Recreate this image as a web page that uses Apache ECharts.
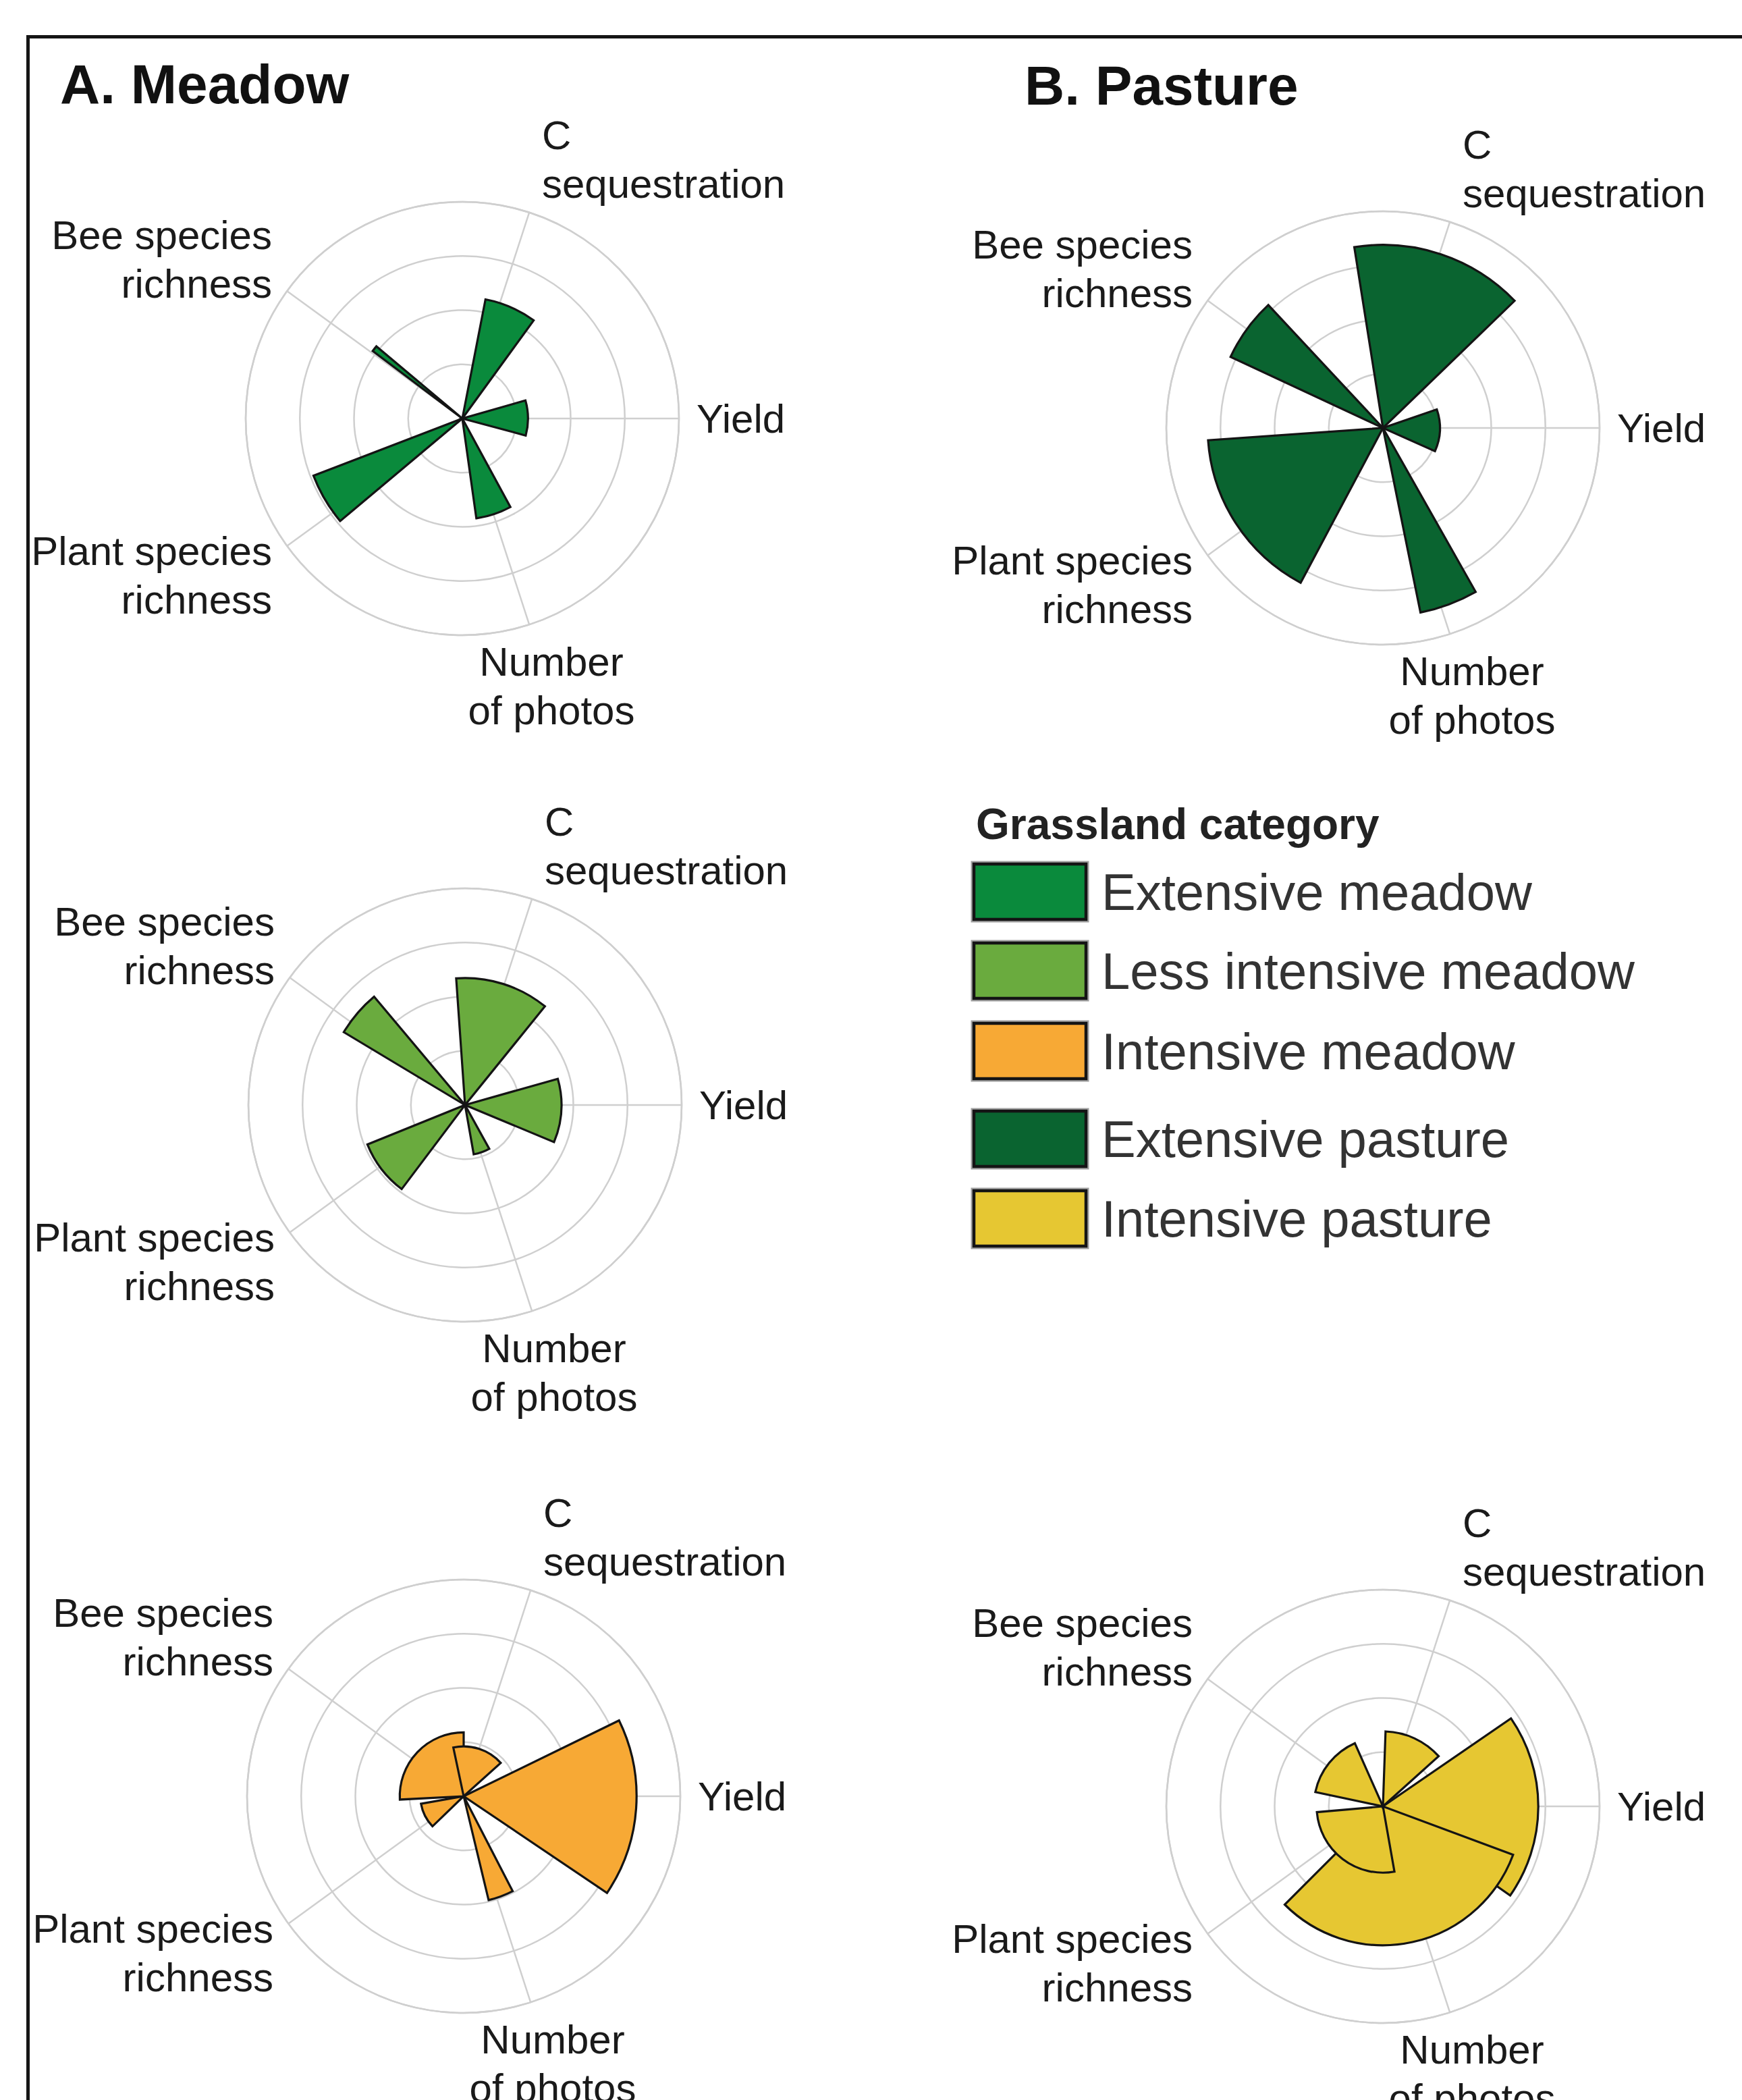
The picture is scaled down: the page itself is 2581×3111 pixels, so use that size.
<!DOCTYPE html>
<html>
<head>
<meta charset="utf-8">
<script src="https://cdn.jsdelivr.net/npm/echarts@6/dist/echarts.min.js"></script>
<style>
html,body{margin:0;padding:0;background:#fff;}
#chart{width:2581px;height:3111px;}
</style>
</head>
<body>
<div id="chart"></div>
<script>
// ---------------- DATA ----------------
// axis order: Yield, C sequestration, Bee species richness, Plant species richness, Number of photos
const axisNames = ['Yield', 'C sequestration', 'Bee species richness', 'Plant species richness', 'Number of photos'];
const axisLabelText = ['Yield', 'C\nsequestration', 'Bee species\nrichness', 'Plant species\nrichness', 'Number\nof photos'];
const spokeInterval = 72; // degrees between spokes
const ringInterval = 0.25;

const categories = ['Extensive meadow', 'Less intensive meadow', 'Intensive meadow', 'Extensive pasture', 'Intensive pasture'];
const categoryColors = ['#0A8A3C', '#6AAB3E', '#F7A935', '#0A6430', '#E6C732'];
const panelTitles = ['A. Meadow', 'B. Pasture'];
const legendTitle = 'Grassland category';

// relative value (outer ring = 1) and angular extent (degrees, counter-clockwise from Yield)
const extMeadowValue = [0.303, 0.56, 0.518, 0.736, 0.465];
const extMeadowStart = [345, 54, 140, 201, 278];
const extMeadowEnd   = [16, 79, 143, 220, 298.5];

const lessMeadowValue = [0.445, 0.586, 0.653, 0.486, 0.231];
const lessMeadowStart = [337.4, 51, 130, 202, 280];
const lessMeadowEnd   = [15.8, 94, 149, 233, 299];

const intMeadowValue = [0.798, 0.23, 0.295, 0.20, 0.493];
const intMeadowStart = [326, 42, 90, 190, 283.5];
const intMeadowEnd   = [26, 102, 183, 224, 297.3];

const extPastureValue = [0.263, 0.845, 0.776, 0.809, 0.869];
const extPastureStart = [336, 44, 133, 184, 281.5];
const extPastureEnd   = [19, 99, 155, 242, 299.5];

const intPastureValue = [0.717, 0.346, 0.319, 0.306, 0.641];
const intPastureStart = [325, 42, 114, 185, 225];
const intPastureEnd   = [34.5, 88, 168, 280, 339.6];

const seriesValues = [extMeadowValue, lessMeadowValue, intMeadowValue, extPastureValue, intPastureValue];
const seriesStarts = [extMeadowStart, lessMeadowStart, intMeadowStart, extPastureStart, intPastureStart];
const seriesEnds   = [extMeadowEnd, lessMeadowEnd, intMeadowEnd, extPastureEnd, intPastureEnd];

// drawing order of petals (later ones on top)
const drawOrder = [0, 4, 3, 2, 1];

// ---------------- LAYOUT ----------------
const panelCenters = [[685, 620], [689, 1637], [687, 2661], [2049, 634], [2049, 2676]];
const polarRadius = 321;
const labelFont = '"Liberation Sans", Arial, Helvetica, sans-serif';
// label anchor offsets relative to polar centre, per axis
const labelLayout = [
  {dx: 347, dy: 0, align: 'left'},
  {dx: 118, dy: -384, align: 'left'},
  {dx: -282, dy: -236, align: 'right'},
  {dx: -282, dy: 232, align: 'right'},
  {dx: 132, dy: 396, align: 'center'}
];

const gridLine = {color: '#cfcfcf', width: 2.5};

const polar = [], angleAxis = [], radiusAxis = [], series = [];
panelCenters.forEach((c, i) => {
  polar.push({center: [c[0], c[1]], radius: polarRadius});
  angleAxis.push({
    polarIndex: i, type: 'value', min: 0, max: 360, interval: spokeInterval,
    startAngle: 0, clockwise: false,
    axisLine: {show: true, lineStyle: gridLine},
    axisTick: {show: false}, axisLabel: {show: false},
    splitLine: {show: true, lineStyle: gridLine}
  });
  radiusAxis.push({
    polarIndex: i, type: 'value', min: 0, max: 1, interval: ringInterval,
    axisLine: {show: false}, axisTick: {show: false}, axisLabel: {show: false},
    splitLine: {show: true, lineStyle: gridLine}
  });
  const data = drawOrder.map(k => ({
    name: axisNames[k],
    value: [seriesValues[i][k], seriesStarts[i][k], seriesEnds[i][k]]
  }));
  const color = categoryColors[i];
  series.push({
    type: 'custom', name: categories[i], coordinateSystem: 'polar', polarIndex: i,
    encode: {radius: 0, angle: 1},
    data: data,
    silent: true,
    renderItem: function (params, api) {
      const r = api.value(0), a1 = api.value(1), a2 = api.value(2);
      const c0 = api.coord([0, 0]);
      const p1 = api.coord([r, a1]);
      const p2 = api.coord([r, a2]);
      const rad = Math.hypot(p1[0] - c0[0], p1[1] - c0[1]);
      let s = Math.atan2(p2[1] - c0[1], p2[0] - c0[0]);
      let e = Math.atan2(p1[1] - c0[1], p1[0] - c0[0]);
      while (e <= s) e += Math.PI * 2;
      return {
        type: 'sector',
        shape: {cx: c0[0], cy: c0[1], r0: 0, r: rad, startAngle: s, endAngle: e, clockwise: true},
        style: {fill: color, stroke: '#141414', lineWidth: 3.2, lineJoin: 'miter'}
      };
    }
  });
});

// ---------------- TEXT / DECORATION ----------------
const graphic = [];
// outer frame (cut by page edges)
graphic.push({type: 'rect', left: 39, top: 52, shape: {x: 0, y: 0, width: 2700, height: 3200},
  style: {fill: 'none', stroke: '#151515', lineWidth: 5}, silent: true, z: 0});
// panel titles
graphic.push({type: 'text', x: 89, y: 124, style: {text: panelTitles[0], font: 'bold 82px ' + labelFont, fill: '#111', textVerticalAlign: 'middle'}});
graphic.push({type: 'text', x: 1518, y: 126, style: {text: panelTitles[1], font: 'bold 82px ' + labelFont, fill: '#111', textVerticalAlign: 'middle'}});
// axis labels
panelCenters.forEach(c => {
  axisLabelText.forEach((t, k) => {
    const L = labelLayout[k];
    graphic.push({type: 'text', x: c[0] + L.dx, y: c[1] + L.dy,
      style: {text: t, font: '60px ' + labelFont, fill: '#1a1a1a', textAlign: L.align,
        textVerticalAlign: 'middle', lineHeight: 72}});
  });
});
// legend
const legendX = 1443, legendRowY = [1321, 1438, 1557, 1687, 1805];
graphic.push({type: 'text', x: 1446, y: 1221, style: {text: legendTitle, font: 'bold 64px ' + labelFont, fill: '#222', textVerticalAlign: 'middle'}});
categories.forEach((name, i) => {
  graphic.push({type: 'rect', shape: {x: legendX, y: legendRowY[i] - 41, width: 166, height: 82},
    style: {fill: 'none', stroke: '#a0a0a0', lineWidth: 9}});
  graphic.push({type: 'rect', shape: {x: legendX, y: legendRowY[i] - 41, width: 166, height: 82},
    style: {fill: categoryColors[i], stroke: '#141414', lineWidth: 4.5}});
  graphic.push({type: 'text', x: 1632, y: legendRowY[i], style: {text: name, font: '76px ' + labelFont, fill: '#333', textVerticalAlign: 'middle'}});
});

const chart = echarts.init(document.getElementById('chart'), null, {renderer: 'svg'});
chart.setOption({
  backgroundColor: '#ffffff',
  animation: false,
  polar: polar,
  angleAxis: angleAxis,
  radiusAxis: radiusAxis,
  series: series,
  graphic: graphic
});
</script>
</body>
</html>
